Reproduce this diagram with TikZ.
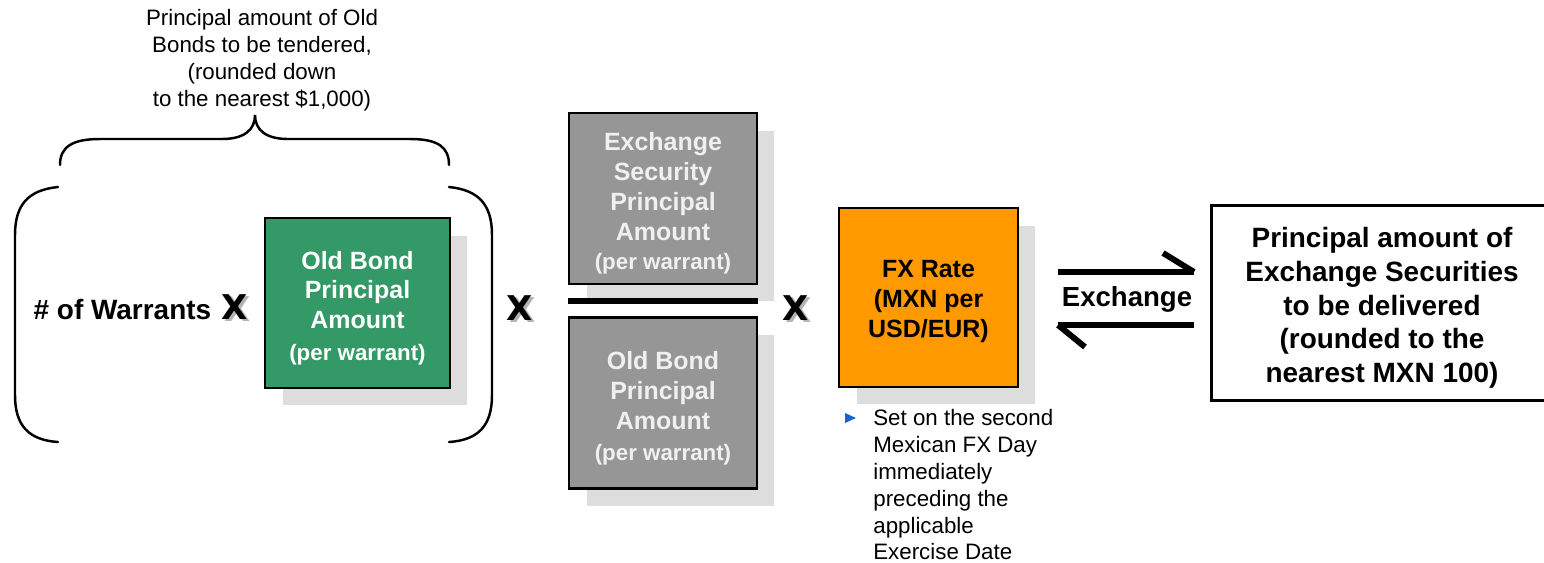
\documentclass[tikz,border=0pt]{standalone}
\usepackage{fontspec}
\setmainfont{Liberation Sans}
\newfontfamily\xfont{DejaVu Sans}
\usetikzlibrary{positioning, shadows}

\definecolor{bondgreen}{HTML}{339966}
\definecolor{boxgray}{HTML}{969696}
\definecolor{boxtext}{HTML}{F0F0F0}
\definecolor{shadowgray}{HTML}{DDDDDD}
\definecolor{fxorange}{HTML}{FF9900}
\definecolor{bulletblue}{HTML}{1464D2}
\definecolor{xshadow}{HTML}{B4B4B4}

\newcommand{\perwarrant}{{\fontsize{12.7}{15}\selectfont (per warrant)}}
\newcommand{\timesx}{\rlap{\kern1.4pt\raisebox{-1.4pt}{\textcolor{xshadow}{X}}}X}
\newcommand{\toppad}[1]{\rule{0pt}{#1}}

\begin{document}
\begin{tikzpicture}[x=0.02cm, y=-0.02cm,
    box/.style={draw=black, line width=1.6pt, align=center, inner sep=0pt,
                font=\bfseries\fontsize{14.2}{17}\selectfont},
    boxshadow/.style={general shadow={fill=shadowgray,
                shadow xshift=0.35cm, shadow yshift=-0.35cm}},
    mult/.style={anchor=base, inner sep=0pt,
                font=\xfont\bfseries\fontsize{19.4}{24}\selectfont},
    bar/.style={line width=3.4pt},
    brace/.style={line width=1.4pt, line cap=round}]
    \useasboundingbox (0,0) rectangle (1544,562);

    % left bracket: warrants times old bond amount
    \node[align=center,
          font=\fontsize{12.7}{15.3}\selectfont] (tendered) at (262,60)
        {Principal amount of Old\\Bonds to be tendered,\\(rounded down\\to the nearest \$1,000)};
    \draw[brace] (60,165) .. controls (60,147) and (72,139) .. (100,139) -- (222,139)
        .. controls (244,139) and (255,130) .. (255,115)
        .. controls (255,130) and (266,139) .. (288,139) -- (410,139)
        .. controls (438,139) and (449,147) .. (449,165);
    \draw[brace] (58,187) .. controls (28,190) and (15,205) .. (15,235) -- (15,395)
        .. controls (15,425) and (28,440) .. (58,442);
    \draw[brace] (449,187) .. controls (479,190) and (492,205) .. (492,235) -- (492,395)
        .. controls (492,425) and (479,440) .. (449,442);

    \node[mult] (x1) at (235,319) {\timesx};
    \node[base left=0.2cm of x1,
          inner sep=0pt,
          font=\bfseries\fontsize{15.9}{19}\selectfont] (warrants) {\# of Warrants};
    \node[box, boxshadow,
          fill=bondgreen,
          text=white,
          minimum width=3.7cm,
          minimum height=3.4cm] (oldbond) at (357.5,303)
        {\toppad{16pt}Old Bond\\Principal\\Amount\\[1pt]\perwarrant};

    % ratio of principal amounts
    \node[mult] (x2) at (520,320) {\timesx};
    \node[box, boxshadow,
          fill=boxgray,
          text=boxtext,
          minimum width=3.76cm,
          minimum height=3.42cm] (exnum) at (663,198.5)
        {\toppad{16pt}Exchange\\Security\\Principal\\Amount\\\perwarrant};
    \node[box, boxshadow,
          below=0.62cm of exnum,
          fill=boxgray,
          text=boxtext,
          minimum width=3.76cm,
          minimum height=3.42cm] (oldden)
        {\toppad{16pt}Old Bond\\Principal\\Amount\\[1pt]\perwarrant};
    \draw[bar] ([yshift=-0.31cm]exnum.south west) -- ([yshift=-0.31cm]exnum.south east);

    % fx rate
    \node[mult] (x3) at (796,320) {\timesx};
    \node[box, boxshadow,
          fill=fxorange,
          text=black,
          minimum width=3.58cm,
          minimum height=3.58cm] (fx) at (928.5,297.5)
        {\toppad{14pt}FX Rate\\(MXN per\\USD/EUR)};
    \fill[bulletblue] (845,413) -- (856,418) -- (845,423) -- cycle;
    \node[anchor=north west,
          align=left,
          inner sep=0pt,
          font=\fontsize{12.7}{15.3}\selectfont] (fxnote) at (873,409)
        {Set on the second\\Mexican FX Day\\immediately\\preceding the\\applicable\\Exercise Date};

    % exchange
    \node[anchor=base,
          inner sep=0pt,
          font=\bfseries\fontsize{15.7}{19}\selectfont] (exlabel) at (1127,306) {Exchange};
    \coordinate (fwdL) at (1058,272);
    \coordinate (fwdR) at (1194,272);
    \coordinate (bckR) at (1194,325);
    \coordinate (bckL) at (1058,325);
    \draw[bar] (fwdL) -- (fwdR);
    \draw[bar] (fwdR) -- +(-31,-19);
    \draw[bar] (bckR) -- (bckL);
    \draw[bar] (bckL) -- +(27,22);
    \node[align=center,
          inner sep=0pt,
          minimum width=6.8cm,
          minimum height=3.88cm,
          font=\bfseries\fontsize{15.9}{19.3}\selectfont] (result) at (1382,303)
        {\toppad{17pt}Principal amount of\\Exchange Securities\\to be delivered\\(rounded to the\\nearest MXN 100)};
    \draw[line width=1.6pt] (result.north west) -- ++(400,0);
    \draw[line width=1.6pt] (result.south west) -- ++(400,0);
    \draw[line width=1.6pt] ([yshift=0.8pt]result.north west) -- ([yshift=-0.8pt]result.south west);
\end{tikzpicture}
\end{document}
